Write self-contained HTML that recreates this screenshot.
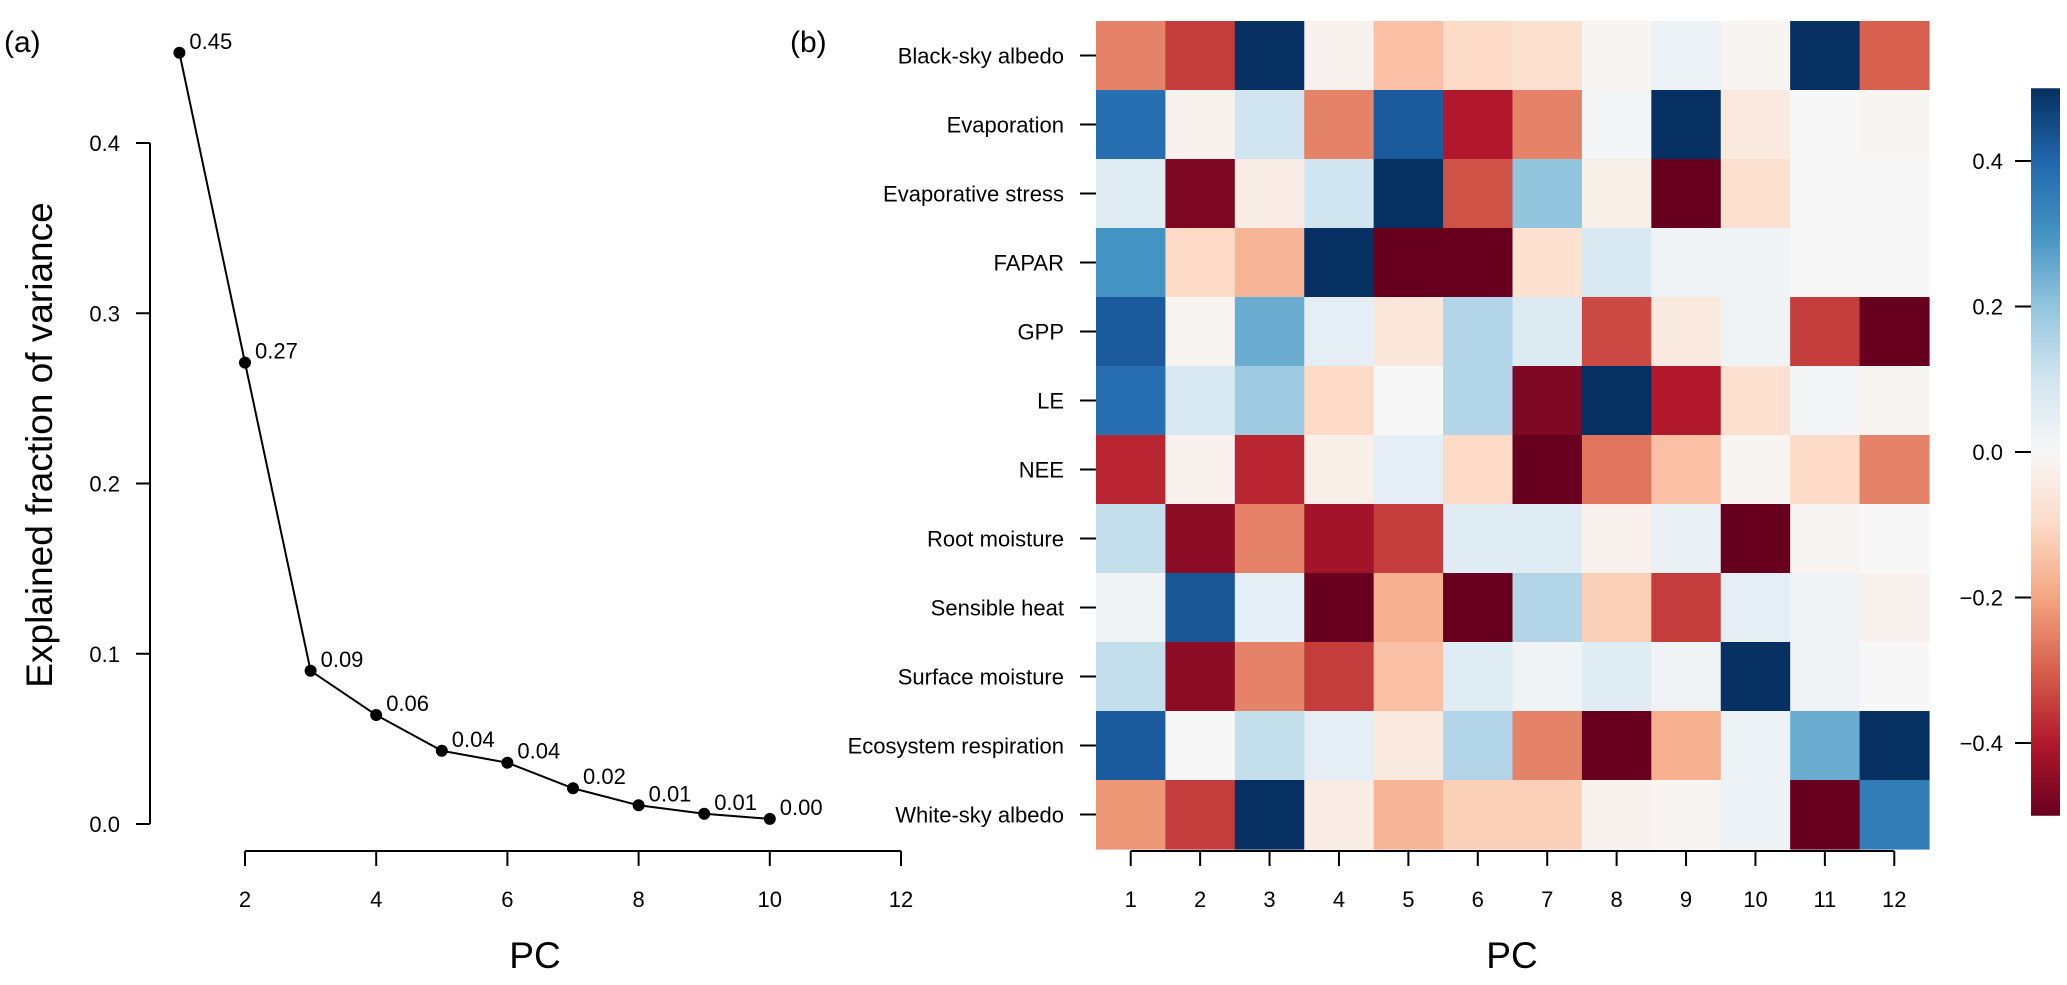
<!DOCTYPE html>
<html><head><meta charset="utf-8"><style>
body{margin:0;background:#fff;}
svg{display:block;font-family:"Liberation Sans",sans-serif;}
</style></head><body>
<svg id="c" width="2067" height="985" viewBox="0 0 2067 985">
<g id="a"></g>
<g id="b"></g>
</svg>
<script>
const pcs=[1,2,3,4,5,6,7,8,9,10];
const variance=[0.453,0.271,0.090,0.064,0.043,0.036,0.021,0.011,0.006,0.003];
const varLabels=["0.45","0.27","0.09","0.06","0.04","0.04","0.02","0.01","0.01","0.00"];
const yTicks=[0.0,0.1,0.2,0.3,0.4];
const xTicks=[2,4,6,8,10,12];
const rowNames=["Black-sky albedo","Evaporation","Evaporative stress","FAPAR","GPP","LE","NEE","Root moisture","Sensible heat","Surface moisture","Ecosystem respiration","White-sky albedo"];
const colNames=["1","2","3","4","5","6","7","8","9","10","11","12"];
const loadings=[
[-0.25,-0.35,0.5,-0.02,-0.15,-0.1,-0.08,-0.01,0.03,-0.01,0.5,-0.3],
[0.38,-0.02,0.1,-0.25,0.42,-0.4,-0.25,0.01,0.5,-0.05,0,-0.01],
[0.06,-0.47,-0.04,0.1,0.5,-0.32,0.2,-0.03,-0.5,-0.08,0,0],
[0.3,-0.1,-0.17,0.5,-0.5,-0.5,-0.08,0.08,0.02,0.02,0,0],
[0.42,-0.01,0.25,0.05,-0.06,0.15,0.07,-0.33,-0.05,0.02,-0.35,-0.5],
[0.38,0.08,0.18,-0.1,0.0,0.15,-0.47,0.5,-0.4,-0.08,0.01,-0.01],
[-0.38,-0.02,-0.38,-0.03,0.05,-0.1,-0.5,-0.27,-0.15,-0.01,-0.1,-0.25],
[0.12,-0.45,-0.25,-0.42,-0.35,0.06,0.06,-0.02,0.04,-0.5,-0.01,0],
[0.02,0.43,0.05,-0.5,-0.18,-0.5,0.15,-0.12,-0.35,0.05,0.02,-0.02],
[0.12,-0.45,-0.25,-0.35,-0.15,0.06,0.02,0.06,0.02,0.5,0.02,0],
[0.42,0,0.12,0.05,-0.05,0.15,-0.25,-0.5,-0.18,0.03,0.25,0.5],
[-0.22,-0.35,0.5,-0.04,-0.17,-0.12,-0.12,-0.02,-0.01,0.03,-0.5,0.35]];
const cbTicks=[0.4,0.2,0.0,-0.2,-0.4];
const cbLabels=["0.4","0.2","0.0","\u22120.2","\u22120.4"];

const NS="http://www.w3.org/2000/svg";
function mk(p,t,a,txt){const e=document.createElementNS(NS,t);for(const k in a)e.setAttribute(k,a[k]);if(txt!==undefined)e.textContent=txt;p.appendChild(e);return e;}
const A=document.getElementById('a'),B=document.getElementById('b');
const sx=v=>245+(v-2)*65.6, sy=v=>824-v*1702.5;
let t=mk(A,'text',{x:4,y:52,'font-size':30},'(a)');

let l=mk(A,'line',{x1:150,y1:sy(0),x2:150,y2:sy(0.4),stroke:'#000','stroke-width':2});

yTicks.forEach(v=>{
 let tk=mk(A,'line',{x1:136,x2:150,y1:sy(v),y2:sy(v),stroke:'#000','stroke-width':2});
 
 let tl=mk(A,'text',{x:120,y:sy(v)+8,'font-size':22,'text-anchor':'end'},v.toFixed(1));
 
});
l=mk(A,'line',{x1:sx(2),y1:851,x2:sx(12),y2:851,stroke:'#000','stroke-width':2});

xTicks.forEach(v=>{
 let tk=mk(A,'line',{x1:sx(v),x2:sx(v),y1:851,y2:866,stroke:'#000','stroke-width':2});
 
 let tl=mk(A,'text',{x:sx(v),y:907,'font-size':22,'text-anchor':'middle'},String(v));
 
});
let pl=mk(A,'polyline',{points:pcs.map((p,i)=>sx(p)+','+sy(variance[i])).join(' '),fill:'none',stroke:'#000','stroke-width':2});

pcs.forEach((p,i)=>{
 let c=mk(A,'circle',{cx:sx(p),cy:sy(variance[i]),r:6,fill:'#000'});
 
 let tl=mk(A,'text',{x:sx(p)+10,y:sy(variance[i])-4,'font-size':22},varLabels[i]);
 
});
t=mk(A,'text',{x:535,y:968,'font-size':37,'text-anchor':'middle'},'PC');

t=mk(A,'text',{x:0,y:0,'font-size':37,'text-anchor':'middle',transform:'translate(52,445) rotate(-90)'},'Explained fraction of variance');


const stops=['#67001f','#b2182b','#d6604d','#f4a582','#fddbc7','#f7f7f7','#d1e5f0','#92c5de','#4393c3','#2166ac','#053061'];
function hx(h){return [1,3,5].map(i=>parseInt(h.substr(i,2),16));}
function col(v){let tt=Math.max(0,Math.min(1,v+0.5))*10;let i=Math.min(9,Math.floor(tt)),f=tt-i;const a=hx(stops[i]),b=hx(stops[i+1]);return 'rgb('+a.map((x,k)=>Math.round(x+(b[k]-x)*f)).join(',')+')';}
const X0=1096,Y0=21,CW=833/12,RH=828/12;
t=mk(B,'text',{x:790,y:52,'font-size':30},'(b)');

loadings.forEach((row,r)=>row.forEach((v,c)=>{
 let re=mk(B,'rect',{x:X0+c*CW,y:Y0+r*RH,width:CW+0.6,height:RH+0.6,fill:col(v)});
 
}));
rowNames.forEach((n,r)=>{
 const y=Y0+(r+0.5)*RH;
 let tk=mk(B,'line',{x1:1080,x2:1096,y1:y,y2:y,stroke:'#000','stroke-width':2});
 
 let tl=mk(B,'text',{x:1064,y:y+8,'font-size':22,'text-anchor':'end'},n);
 
});
colNames.forEach((n,c)=>{
 const x=X0+(c+0.5)*CW;
 let tk=mk(B,'line',{x1:x,x2:x,y1:851,y2:866,stroke:'#000','stroke-width':2});
 
 let tl=mk(B,'text',{x:x,y:907,'font-size':22,'text-anchor':'middle'},n);
 
});
l=mk(B,'line',{x1:X0+0.5*CW,x2:X0+11.5*CW,y1:851,y2:851,stroke:'#000','stroke-width':2});

t=mk(B,'text',{x:1512,y:968,'font-size':37,'text-anchor':'middle'},'PC');

const cy=v=>452-v*727.5;
const defs=mk(B,'defs',{});const g=mk(defs,'linearGradient',{id:'cb',x1:0,y1:1,x2:0,y2:0});
stops.forEach((s,i)=>mk(g,'stop',{offset:(i*10)+'%','stop-color':s}));
let cb=mk(B,'rect',{x:2031,y:cy(0.5),width:29,height:cy(-0.5)-cy(0.5),fill:'url(#cb)'});

cbTicks.forEach((v,i)=>{
 let tk=mk(B,'line',{x1:2015,x2:2031,y1:cy(v),y2:cy(v),stroke:'#000','stroke-width':2});
 
 let tl=mk(B,'text',{x:2003,y:cy(v)+8,'font-size':22,'text-anchor':'end'},cbLabels[i]);
 
});
</script>
</body></html>
